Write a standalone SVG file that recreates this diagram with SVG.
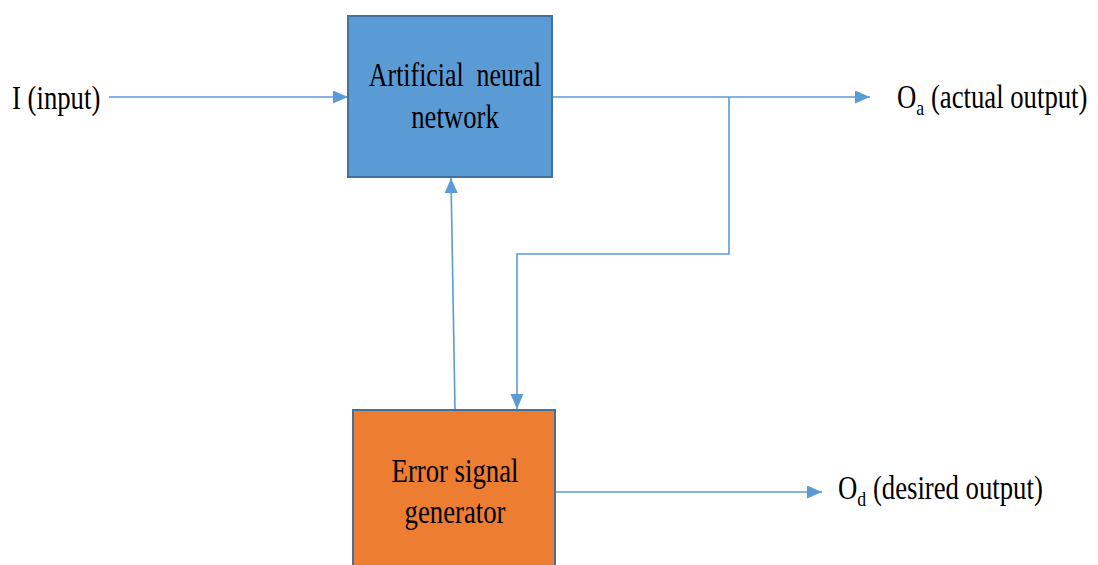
<svg xmlns="http://www.w3.org/2000/svg" width="1098" height="565" viewBox="0 0 1098 565">
  <style>
    .box-ann { fill: #5B9BD5; stroke: #41719C; stroke-width: 2; }
    .box-err { fill: #ED7D31; stroke: #41719C; stroke-width: 2; }
    .wire { fill: none; stroke: #5B9BD5; stroke-width: 1.6; }
    .lbl { font-family: "Liberation Serif", "Times New Roman", serif; font-size: 33px; fill: #000; }
    .sub { font-size: 22px; }
  </style>
  <defs>
    <marker id="arrow" markerUnits="userSpaceOnUse" markerWidth="16" markerHeight="14" refX="15" refY="6.5" orient="auto">
      <path d="M0,0 L15,6.5 L0,13 Z" fill="#5B9BD5"/>
    </marker>
  </defs>

  <!-- connectors -->
  <g id="connectors">
    <line class="wire" x1="109" y1="97" x2="348" y2="97" marker-end="url(#arrow)"/>
    <line class="wire" x1="552" y1="97" x2="870" y2="97" marker-end="url(#arrow)"/>
    <polyline class="wire" points="729,97 729,254 517,254 517,409" marker-end="url(#arrow)"/>
    <line class="wire" x1="455" y1="409" x2="451" y2="178" marker-end="url(#arrow)"/>
    <line class="wire" x1="555" y1="492" x2="822" y2="492" marker-end="url(#arrow)"/>
  </g>

  <!-- artificial neural network block -->
  <g id="ann">
    <rect class="box-ann" x="348" y="16" width="204" height="161"/>
    <text class="lbl" text-anchor="middle" word-spacing="8" transform="translate(455,86) scale(0.785,1)">Artificial neural</text>
    <text class="lbl" text-anchor="middle" transform="translate(455,128) scale(0.81,1)">network</text>
  </g>

  <!-- error signal generator block -->
  <g id="error-gen">
    <rect class="box-err" x="353" y="410" width="202" height="170"/>
    <text class="lbl" text-anchor="middle" transform="translate(455,482) scale(0.81,1)">Error signal</text>
    <text class="lbl" text-anchor="middle" transform="translate(455,523) scale(0.81,1)">generator</text>
  </g>

  <!-- input label -->
  <g id="input">
    <text class="lbl" transform="translate(12,109) scale(0.81,1)">I (input)</text>
  </g>

  <!-- actual output label -->
  <g id="actual-output">
    <text class="lbl" transform="translate(897,108) scale(0.81,1)">O<tspan class="sub" dy="7">a</tspan><tspan dy="-7"> (actual output)</tspan></text>
  </g>

  <!-- desired output label -->
  <g id="desired-output">
    <text class="lbl" transform="translate(838,499) scale(0.81,1)">O<tspan class="sub" dy="7">d</tspan><tspan dy="-7"> (desired output)</tspan></text>
  </g>
</svg>
